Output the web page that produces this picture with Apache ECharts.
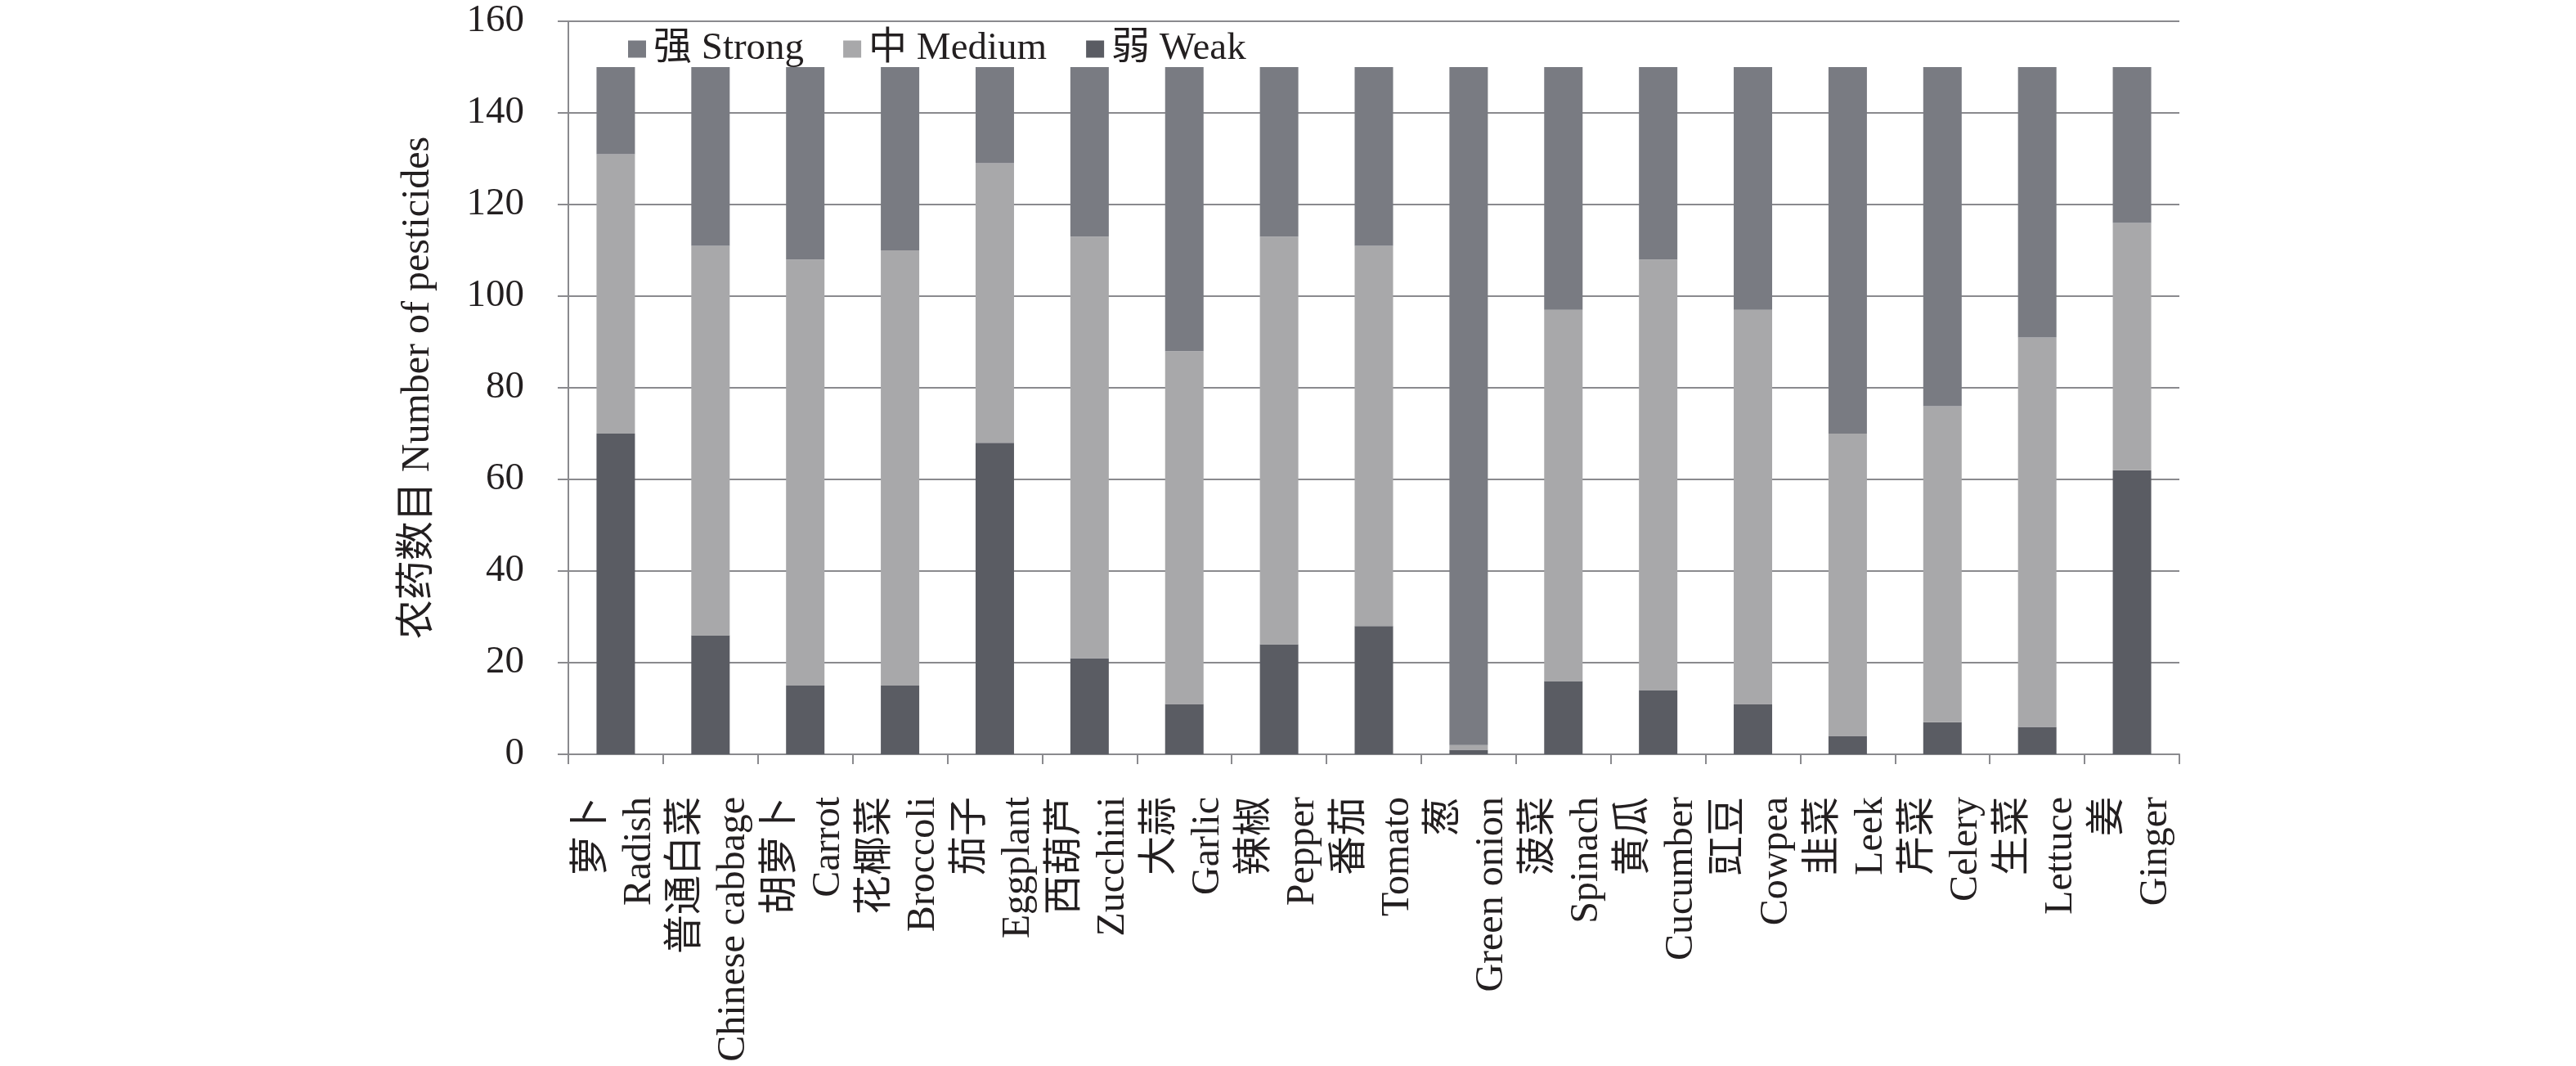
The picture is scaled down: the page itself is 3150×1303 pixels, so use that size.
<!DOCTYPE html>
<html>
<head>
<meta charset="utf-8">
<script src="https://cdn.jsdelivr.net/npm/echarts@6/dist/echarts.min.js"></script>
<style>
  html, body { margin: 0; padding: 0; background: #fff; }
  #chart { width: 3150px; height: 1303px; }
</style>
</head>
<body>
<div id="chart"></div>
<script>
var categoriesZh = ['萝卜', '普通白菜', '胡萝卜', '花椰菜', '茄子', '西葫芦', '大蒜', '辣椒', '番茄', '葱', '菠菜', '黄瓜', '豇豆', '韭菜', '芹菜', '生菜', '姜'];
var categoriesEn = ['Radish', 'Chinese cabbage', 'Carrot', 'Broccoli', 'Eggplant', 'Zucchini', 'Garlic', 'Pepper', 'Tomato', 'Green onion', 'Spinach', 'Cucumber', 'Cowpea', 'Leek', 'Celery', 'Lettuce', 'Ginger'];
var weak = [70, 26, 15, 15, 68, 21, 11, 24, 28, 1, 16, 14, 11, 4, 7, 6, 62];
var medium = [61, 85, 93, 95, 61, 92, 77, 89, 83, 1, 81, 94, 86, 66, 69, 85, 54];
var strong = [19, 39, 42, 40, 21, 37, 62, 37, 39, 148, 53, 42, 53, 80, 74, 59, 34];
var seriesNames = ['强 Strong', '中 Medium', '弱 Weak'];

(function () {
  var font = "'Liberation Serif', 'Times New Roman', 'Noto Sans CJK SC', serif";
  var ink = '#231f20';
  var rule = '#8a8a8e';
  var cStrong = '#797b82';
  var cMedium = '#a8a8aa';
  var cWeak = '#5a5c63';

  var chart = echarts.init(document.getElementById('chart'), null, { renderer: 'canvas' });

  function barSeries(name, data, color) {
    return {
      name: name,
      type: 'bar',
      stack: 'total',
      data: data,
      barWidth: 47,
      itemStyle: { color: color }
    };
  }

  chart.setOption({
    backgroundColor: '#fff',
    animation: false,
    textStyle: { fontFamily: font },
    grid: {
      left: 695,
      right: 485,
      top: 26,
      bottom: 381,
      containLabel: false,
      outerBoundsMode: 'none'
    },
    legend: {
      data: seriesNames,
      left: 763,
      top: 31,
      itemWidth: 22,
      itemHeight: 21,
      itemGap: 48,
      icon: 'rect',
      textStyle: {
        color: ink,
        fontSize: 47,
        fontFamily: font,
        lineHeight: 48,
        padding: [0, 0, 0, 4]
      }
    },
    xAxis: {
      type: 'category',
      data: categoriesZh,
      boundaryGap: true,
      axisLine: { lineStyle: { color: rule, width: 2 } },
      axisTick: { show: true, length: 12, lineStyle: { color: rule, width: 2 } },
      axisLabel: {
        interval: 0,
        rotate: 90,
        margin: 52,
        color: ink,
        fontSize: 48,
        lineHeight: 58,
        fontFamily: font,
        formatter: function (value, index) {
          return value + '\n' + categoriesEn[index];
        }
      },
      splitLine: { show: false }
    },
    yAxis: {
      type: 'value',
      min: 0,
      max: 160,
      interval: 20,
      name: '农药数目 Number of pesticides',
      nameLocation: 'middle',
      nameRotate: 90,
      nameGap: 160,
      nameTextStyle: { color: ink, fontSize: 48, fontFamily: font },
      axisLine: { show: true, lineStyle: { color: rule, width: 2 } },
      axisTick: { show: true, length: 13, lineStyle: { color: rule, width: 2 } },
      axisLabel: { color: ink, fontSize: 47, margin: 54, fontFamily: font },
      splitLine: { lineStyle: { color: rule, width: 2 } }
    },
    series: [
      barSeries(seriesNames[2], weak, cWeak),
      barSeries(seriesNames[1], medium, cMedium),
      barSeries(seriesNames[0], strong, cStrong)
    ]
  });

  window.addEventListener('resize', function () {
    chart.resize();
  });
})();
</script>
</body>
</html>
